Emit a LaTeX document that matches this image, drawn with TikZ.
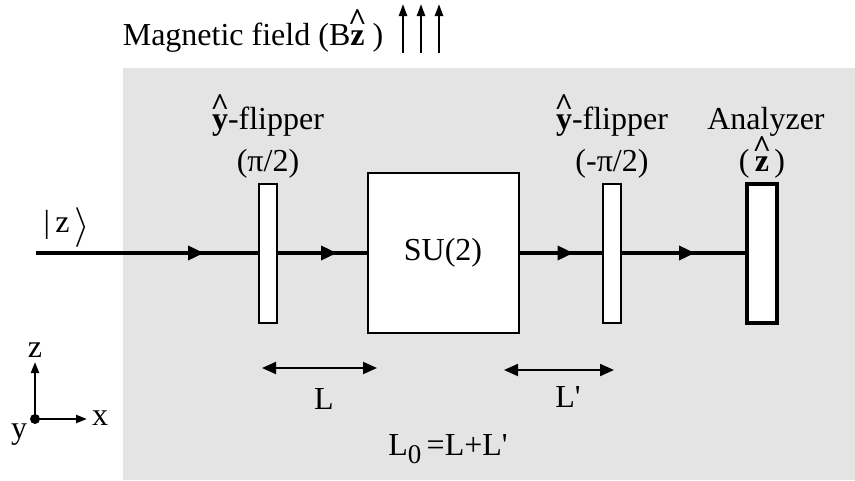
\documentclass[tikz,border=0pt]{standalone}
\usepackage{graphicx}
\usepackage{fontspec}
\setmainfont{Liberation Serif}
\usetikzlibrary{arrows.meta,positioning,decorations.markings}
\definecolor{bgGray}{HTML}{E4E4E4}
% bold letter with a caret set high above it
\newcommand{\hatbf}[1]{\setbox0\hbox{\bfseries #1}%
  \makebox[0pt][l]{\raisebox{0.44em}{\makebox[\wd0]{\bfseries\textasciicircum}}}\box0}
\tikzset{
  flip/.style={rectangle,draw,fill=white,line width=2pt,minimum width=18pt,
               minimum height=139pt},
  subox/.style={rectangle,draw,fill=white,line width=2pt,minimum width=151pt,
               minimum height=160pt},
  anabox/.style={rectangle,draw,fill=white,line width=4pt,minimum width=30pt,
               minimum height=139pt},
  beam/.style={line width=3.5pt},
  arr/.style={decoration={markings,
      mark=at position #1 with {\arrow{Triangle[length=16pt,width=14pt]}}},
      postaction={decorate}},
  span/.style={{Triangle[length=14pt,width=12pt]}-{Triangle[length=14pt,width=12pt]},
               line width=2pt},
  axis/.style={-{Triangle[length=11pt,width=8pt]},line width=2.2pt},
  fieldarr/.style={-{Triangle[length=12pt,width=8pt]},line width=2.4pt},
  dot/.style={circle,fill=black,minimum size=10pt},
}
\begin{document}
\begin{tikzpicture}[x=1pt,y=-1pt,node distance=6pt,
    every node/.style={font=\fontsize{32}{36}\selectfont,inner sep=0pt}]
  \useasboundingbox (0,0) rectangle (855,480);
  \fill[bgGray] (123,68) rectangle (855,480);

  % field above the set-up
  \node[anchor=base] (title) at (253,45) {Magnetic field (B\hatbf{z}\ )};
  \foreach \i/\x in {1/403,2/421,3/439}{
    \coordinate (fb\i) at (\x,53); \coordinate (ft\i) at (\x,4);
    \draw[fieldarr] (fb\i) -- (ft\i);
  }

  % beam line
  \node[flip] (flipA) at (268,253) {};
  \node[subox] (su) at (443,253) {SU(2)};
  \node[flip] (flipB) at (612,253) {};
  \node[anabox] (ana) at (762,253) {};
  \coordinate (src) at (36,253);
  \draw[beam,arr=168pt] (src) -- (flipA);
  \draw[beam,arr=59pt] (flipA) -- (su);
  \draw[beam,arr=54pt] (su) -- (flipB);
  \draw[beam,arr=73pt] (flipB) -- (ana);
  \node[anchor=base] (ket) at (67,232)
    {|\,z\,\raisebox{-5pt}{\scalebox{1.6}{$\rangle$}}};

  % labels over the elements
  \node[above=4pt of flipA] (angA) {(π/2)};
  \node[above=12pt of angA] (nameA) {\hatbf{y}-flipper};
  \node[above=4pt of flipB] (angB) {(-π/2)};
  \node[above=12pt of angB] (nameB) {\hatbf{y}-flipper};
  \node[anchor=base] (angC) at (angB.base -| ana) {(\,\hatbf{z}\,)};
  \node[anchor=base] (nameC) at ([xshift=4pt]nameB.base -| ana) {Analyzer};

  % lengths
  \coordinate (La) at (262,368); \coordinate (Lb) at (377,368);
  \draw[span] (La) -- (Lb);
  \node (Llab) at (324,399) {L};
  \coordinate (Ma) at (504,370); \coordinate (Mb) at (614,370);
  \draw[span] (Ma) -- (Mb);
  \node (Mlab) at (568,397) {L\textquotesingle};
  \node[anchor=base] (sum) at (448,455)
    {L\raisebox{-8pt}{\fontsize{27}{27}\selectfont 0}\,=L+L\textquotesingle};

  % axes
  \node[dot] (orig) at (35,419) {};
  \coordinate (zt) at (35,362); \coordinate (xt) at (87,419);
  \draw[axis] (orig.center) -- (zt);
  \draw[axis] (orig.center) -- (xt);
  \node[anchor=base] (zl) at (35,357) {z};
  \node[anchor=base] (xl) at (100,425) {x};
  \node[anchor=base] (yl) at (19,438) {y};
\end{tikzpicture}
\end{document}
